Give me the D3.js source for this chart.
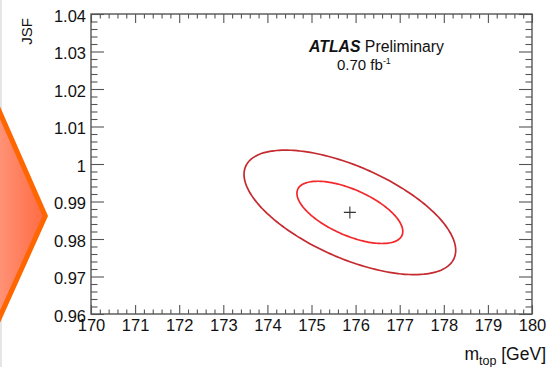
<!DOCTYPE html>
<html>
<head>
<meta charset="utf-8">
<script src="https://cdn.jsdelivr.net/npm/d3@7"></script>
<style>
  html, body { margin: 0; padding: 0; background: #fff; }
  svg { display: block; }
  text { font-family: "Liberation Sans", Arial, Helvetica, sans-serif; fill: #111; }
</style>
</head>
<body>
<svg id="chart" width="549" height="367"></svg>
<script>
// Axis ranges and tick labels
const xDomain = [170, 180];
const yDomain = [0.96, 1.04];
const xTicks = [170, 171, 172, 173, 174, 175, 176, 177, 178, 179, 180];
const xTickLabels = ["170", "171", "172", "173", "174", "175", "176", "177", "178", "179", "180"];
const yTicks = [0.96, 0.97, 0.98, 0.99, 1.00, 1.01, 1.02, 1.03, 1.04];
const yTickLabels = ["0.96", "0.97", "0.98", "0.99", "1", "1.01", "1.02", "1.03", "1.04"];
const minorPerMajor = 5;

// Fit result: best-fit point (m_top, JSF), uncertainties and their correlation
const bestFit = [175.87, 0.9871];
const fitSigma = [1.20, 0.0083];
const fitCorrelation = -0.61;
// Contours drawn at n standard deviations
const contourLevels = [2, 1];

const W = 549, H = 367;
const plot = { left: 91, right: 532, top: 14, bottom: 314 };

const svg = d3.select("#chart");

// --- slide decoration on the left edge ---
const defs = svg.append("defs");
const grad = defs.append("linearGradient").attr("id", "arrowFill")
  .attr("x1", "0%").attr("x2", "100%").attr("y1", "0%").attr("y2", "0%");
grad.append("stop").attr("offset", "0%").attr("stop-color", "#ff977c");
grad.append("stop").attr("offset", "100%").attr("stop-color", "#ff6a42");

svg.append("line").attr("x1", 1).attr("x2", 1).attr("y1", 0).attr("y2", H)
  .attr("stroke", "#e6e6e6").attr("stroke-width", 2);
svg.append("path")
  .attr("d", "M-6,99 L45.3,216 L-6,330 Z")
  .attr("fill", "url(#arrowFill)")
  .attr("stroke", "#ff6600").attr("stroke-width", 5).attr("stroke-linejoin", "miter");

// --- scales ---
const x = d3.scaleLinear().domain(xDomain).range([plot.left, plot.right]);
const y = d3.scaleLinear().domain(yDomain).range([plot.bottom, plot.top]);

function minorTicks(majors) {
  const out = [];
  for (let i = 0; i < majors.length - 1; i++) {
    const a = majors[i], b = majors[i + 1];
    for (let k = 1; k < minorPerMajor; k++) out.push(a + (b - a) * k / minorPerMajor);
  }
  return out;
}
const xMinor = minorTicks(xTicks);
const yMinor = minorTicks(yTicks);

const axisColor = "#555";
const xTickLen = 9, yTickLen = 13;

function styleAxis(g) {
  g.select(".domain").remove();
  g.selectAll(".tick line").attr("stroke", axisColor).attr("stroke-width", 1.1);
}

// bottom axis (labels) with inward ticks
const gx = svg.append("g").attr("transform", `translate(0,${plot.bottom})`)
  .call(d3.axisBottom(x).tickValues(xTicks).tickSize(-xTickLen).tickPadding(5)
    .tickFormat((d, i) => xTickLabels[i]));
styleAxis(gx);
gx.selectAll(".tick text").attr("font-size", 16.5).attr("fill", "#111")
  .attr("y", 5).attr("dy", "0.71em")
  .style("font-family", '"Liberation Sans", Arial, sans-serif');
const gxm = svg.append("g").attr("transform", `translate(0,${plot.bottom})`)
  .call(d3.axisBottom(x).tickValues(xMinor).tickSize(-xTickLen / 2).tickFormat(""));
styleAxis(gxm);

// top axis mirror
const gxt = svg.append("g").attr("transform", `translate(0,${plot.top})`)
  .call(d3.axisTop(x).tickValues(xTicks).tickSize(-xTickLen).tickFormat(""));
styleAxis(gxt);
const gxtm = svg.append("g").attr("transform", `translate(0,${plot.top})`)
  .call(d3.axisTop(x).tickValues(xMinor).tickSize(-xTickLen / 2).tickFormat(""));
styleAxis(gxtm);

// left axis (labels)
const gy = svg.append("g").attr("transform", `translate(${plot.left},0)`)
  .call(d3.axisLeft(y).tickValues(yTicks).tickSize(-yTickLen).tickPadding(5)
    .tickFormat((d, i) => yTickLabels[i]));
styleAxis(gy);
gy.selectAll(".tick text").attr("font-size", 16.5).attr("fill", "#111")
  .attr("x", -5).attr("dy", "0.45em")
  .style("font-family", '"Liberation Sans", Arial, sans-serif');
const gym = svg.append("g").attr("transform", `translate(${plot.left},0)`)
  .call(d3.axisLeft(y).tickValues(yMinor).tickSize(-yTickLen / 2).tickFormat(""));
styleAxis(gym);

// right axis mirror
const gyr = svg.append("g").attr("transform", `translate(${plot.right},0)`)
  .call(d3.axisRight(y).tickValues(yTicks).tickSize(-yTickLen).tickFormat(""));
styleAxis(gyr);
const gyrm = svg.append("g").attr("transform", `translate(${plot.right},0)`)
  .call(d3.axisRight(y).tickValues(yMinor).tickSize(-yTickLen / 2).tickFormat(""));
styleAxis(gyrm);

// frame
svg.append("rect")
  .attr("x", plot.left).attr("y", plot.top)
  .attr("width", plot.right - plot.left).attr("height", plot.bottom - plot.top)
  .attr("fill", "none").attr("stroke", axisColor).attr("stroke-width", 1.4);

// --- confidence contours from the fitted covariance ---
const contourColors = { 1: "#f2282c", 2: "#c42a30" };
const rhoC = Math.sqrt(1 - fitCorrelation * fitCorrelation);
const angles = d3.range(0, 360, 2).map(a => a * Math.PI / 180);
const line = d3.line().x(d => x(d[0])).y(d => y(d[1])).curve(d3.curveCardinalClosed);

svg.append("g").selectAll("path").data(contourLevels).join("path")
  .attr("d", n => line(angles.map(t => [
    bestFit[0] + n * fitSigma[0] * Math.cos(t),
    bestFit[1] + n * fitSigma[1] * (fitCorrelation * Math.cos(t) + rhoC * Math.sin(t))
  ])))
  .attr("fill", "none")
  .attr("stroke", n => contourColors[n])
  .attr("stroke-width", 1.7);

// best-fit marker
const cx = x(bestFit[0]), cy = y(bestFit[1]);
svg.append("path")
  .attr("d", `M${cx - 6},${cy}H${cx + 6}M${cx},${cy - 6}V${cy + 6}`)
  .attr("stroke", "#333").attr("stroke-width", 1.1);

// --- labels ---
const atlas = svg.append("text").attr("x", 309).attr("y", 52).attr("font-size", 15.8);
atlas.append("tspan").attr("font-weight", "bold").attr("font-style", "italic").text("ATLAS");
atlas.append("tspan").text(" Preliminary");

const lumi = svg.append("text").attr("x", 337).attr("y", 70).attr("font-size", 15);
lumi.append("tspan").text("0.70 fb");
lumi.append("tspan").attr("font-size", 9).attr("dy", -6).text("-1");

svg.append("text")
  .attr("transform", "translate(32,18) rotate(-90)")
  .attr("text-anchor", "end").attr("font-size", 15).text("JSF");

const xt = svg.append("text").attr("x", 546).attr("y", 360)
  .attr("text-anchor", "end").attr("font-size", 17.5);
xt.append("tspan").text("m");
xt.append("tspan").attr("font-size", 12.5).attr("dy", 5).text("top");
xt.append("tspan").attr("dy", -5).text(" [GeV]");
</script>
</body>
</html>
